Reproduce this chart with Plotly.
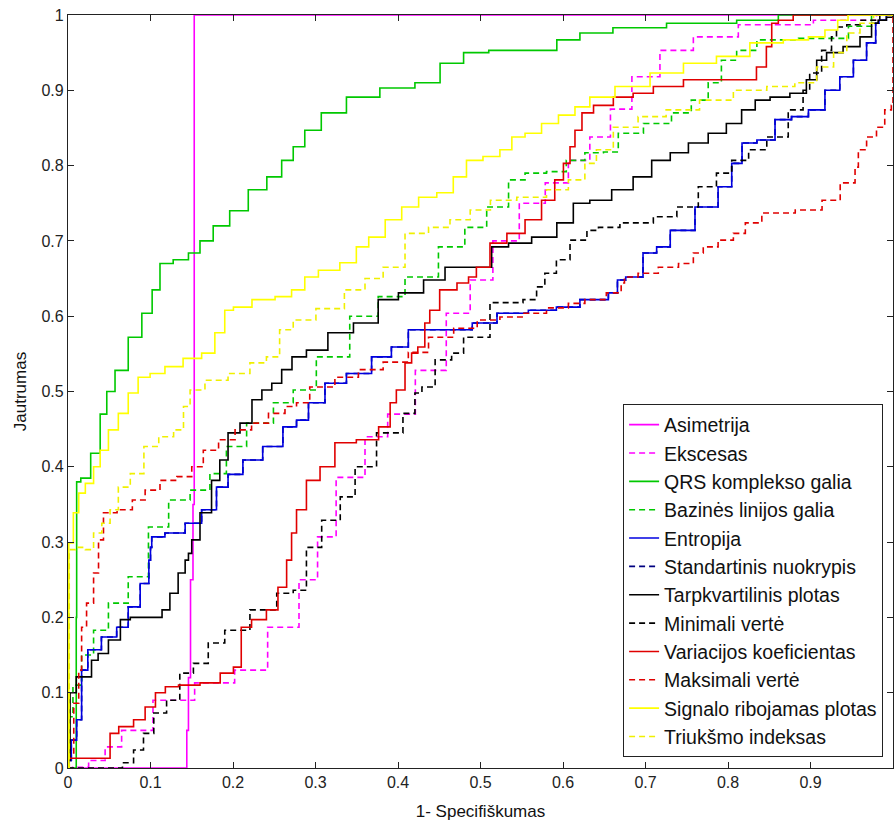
import plotly.graph_objects as go

# ---------------- data ----------------
asim_x = [0, 0.143, 0.145, 0.147, 0.150, 0.153, 0.153, 1.0]
asim_y = [0, 0, 0.05, 0.12, 0.25, 0.35, 1.0, 1.0]

eksc_x = [0, 0.011, 0.039, 0.051, 0.079, 0.127, 0.18, 0.224, 0.26, 0.30, 0.305, 0.345, 0.375, 0.40, 0.442, 0.475, 0.50, 0.53,
          0.564, 0.593, 0.62, 0.645, 0.67, 0.697, 0.738, 0.778, 0.847, 0.96, 1.0]
eksc_y = [0, 0.001, 0.01, 0.028, 0.05, 0.09, 0.113, 0.13, 0.187, 0.25, 0.307, 0.386, 0.44, 0.47, 0.528, 0.604, 0.648, 0.70,
          0.75, 0.777, 0.807, 0.838, 0.875, 0.918, 0.953, 0.971, 0.987, 0.993, 1.0]

qrs_x = [0, 0.01, 0.01, 0.011, 0.02, 0.035, 0.043, 0.051, 0.063, 0.083, 0.096, 0.108, 0.115, 0.14, 0.152, 0.168, 0.184, 0.208,
         0.229, 0.253, 0.265, 0.281, 0.293, 0.321, 0.354, 0.402, 0.439, 0.463, 0.496, 0.524, 0.58, 0.605, 0.636, 0.685,
         0.766, 0.855, 0.867, 1.0]
qrs_y = [0, 0.0, 0.20, 0.38, 0.385, 0.418, 0.47, 0.50, 0.528, 0.572, 0.604, 0.635, 0.67, 0.675, 0.684, 0.70, 0.72, 0.74,
         0.768, 0.785, 0.807, 0.825, 0.847, 0.87, 0.891, 0.903, 0.91, 0.936, 0.95, 0.953, 0.953, 0.967, 0.976, 0.983,
         0.989, 0.993, 1.0, 1.0]

baz_x = [0, 0.002, 0.01, 0.023, 0.039, 0.059, 0.087, 0.108, 0.136, 0.16, 0.184, 0.20, 0.233, 0.265, 0.281, 0.321, 0.362,
         0.39, 0.427, 0.471, 0.491, 0.524, 0.544, 0.564, 0.596, 0.612, 0.641, 0.657, 0.677, 0.718, 0.745, 0.766, 0.786,
         0.798, 0.823, 0.847, 0.924, 0.968, 0.98, 1.0]
baz_y = [0, 0.068, 0.11, 0.15, 0.183, 0.219, 0.254, 0.32, 0.356, 0.369, 0.391, 0.427, 0.458, 0.485, 0.502, 0.546, 0.60,
         0.626, 0.652, 0.692, 0.718, 0.745, 0.781, 0.79, 0.792, 0.807, 0.817, 0.818, 0.843, 0.856, 0.87, 0.887, 0.91,
         0.94, 0.953, 0.967, 0.969, 0.985, 1.0, 1.0]

ent_x = [0, 0.002, 0.006, 0.015, 0.018, 0.03, 0.051, 0.067, 0.079, 0.096, 0.10, 0.10, 0.103, 0.132, 0.152, 0.172, 0.188,
         0.20, 0.224, 0.248, 0.273, 0.281, 0.302, 0.321, 0.354, 0.382, 0.402, 0.423, 0.484, 0.496, 0.544, 0.572, 0.612,
         0.629, 0.645, 0.665, 0.667, 0.685, 0.709, 0.718, 0.742, 0.778, 0.798, 0.811, 0.823, 0.847, 0.867, 0.887, 0.908,
         0.927, 0.944, 0.96, 0.976, 0.982, 0.984, 1.0]
ent_y = [0, 0.01, 0.037, 0.064, 0.13, 0.157, 0.174, 0.187, 0.214, 0.245, 0.276, 0.293, 0.307, 0.312, 0.325, 0.343, 0.373,
         0.39, 0.409, 0.427, 0.453, 0.462, 0.485, 0.511, 0.524, 0.546, 0.559, 0.582, 0.582, 0.591, 0.604, 0.608, 0.612,
         0.622, 0.622, 0.631, 0.648, 0.652, 0.684, 0.692, 0.714, 0.745, 0.772, 0.803, 0.83, 0.834, 0.861, 0.865, 0.874,
         0.90, 0.918, 0.94, 0.963, 0.989, 0.993, 1.0]

std_x = list(ent_x)
std_y = list(ent_y)

tarp_x = [0, 0.0, 0.005, 0.015, 0.027, 0.03, 0.043, 0.055, 0.072, 0.079, 0.108, 0.12, 0.127, 0.14, 0.144, 0.148, 0.152,
          0.168, 0.18, 0.188, 0.20, 0.217, 0.229, 0.241, 0.253, 0.265, 0.278, 0.30, 0.33, 0.362, 0.39, 0.411, 0.451,
          0.463, 0.503, 0.524, 0.544, 0.58, 0.605, 0.62, 0.645, 0.673, 0.697, 0.718, 0.742, 0.762, 0.79, 0.806, 0.827,
          0.839, 0.863, 0.887, 0.903, 0.912, 0.927, 0.952, 0.968, 0.98, 0.984, 1.0, 1.0]
tarp_y = [0, 0.01, 0.10, 0.121, 0.121, 0.143, 0.152, 0.17, 0.197, 0.20, 0.20, 0.21, 0.232, 0.259, 0.276, 0.285, 0.303,
          0.339, 0.382, 0.409, 0.445, 0.458, 0.489, 0.502, 0.511, 0.529, 0.546, 0.555, 0.578, 0.591, 0.622, 0.631, 0.648,
          0.665, 0.665, 0.692, 0.697, 0.705, 0.724, 0.75, 0.754, 0.768, 0.785, 0.807, 0.817, 0.83, 0.843, 0.856, 0.874,
          0.887, 0.891, 0.896, 0.914, 0.94, 0.95, 0.958, 0.971, 0.989, 0.993, 0.997, 1.0]

minv_x = [0, 0.06, 0.072, 0.087, 0.096, 0.112, 0.127, 0.144, 0.16, 0.18, 0.20, 0.241, 0.265, 0.281, 0.297, 0.318, 0.342,
          0.354, 0.394, 0.418, 0.423, 0.435, 0.455, 0.475, 0.484, 0.539, 0.564, 0.572, 0.584, 0.60, 0.617, 0.641, 0.645,
          0.693, 0.726, 0.75, 0.778, 0.794, 0.815, 0.835, 0.859, 0.887, 0.895, 0.903, 0.924, 0.927, 0.936, 0.952, 0.968,
          1.0]
minv_y = [0, 0.0, 0.007, 0.024, 0.046, 0.073, 0.09, 0.126, 0.139, 0.166, 0.183, 0.21, 0.232, 0.236, 0.293, 0.329, 0.36,
          0.40, 0.445, 0.471, 0.498, 0.506, 0.542, 0.551, 0.572, 0.618, 0.622, 0.639, 0.657, 0.675, 0.701, 0.714, 0.718,
          0.724, 0.732, 0.745, 0.772, 0.79, 0.807, 0.821, 0.838, 0.874, 0.90, 0.923, 0.953, 0.971, 0.984, 0.987, 0.993,
          1.0]

var_x = [0, 0.0, 0.051, 0.051, 0.072, 0.087, 0.10, 0.112, 0.124, 0.144, 0.176, 0.193, 0.208, 0.212, 0.233, 0.248, 0.261,
         0.269, 0.273, 0.281, 0.297, 0.314, 0.333, 0.366, 0.387, 0.394, 0.402, 0.415, 0.418, 0.43, 0.435, 0.442, 0.459,
         0.484, 0.487, 0.503, 0.52, 0.544, 0.564, 0.584, 0.596, 0.605, 0.612, 0.617, 0.629, 0.645, 0.677, 0.693, 0.726,
         0.766, 0.827, 0.842, 0.851, 0.855, 0.867, 0.891, 1.0]
var_y = [0, 0.013, 0.013, 0.046, 0.055, 0.064, 0.081, 0.10, 0.108, 0.11, 0.113, 0.126, 0.134, 0.187, 0.197, 0.21, 0.24,
         0.276, 0.312, 0.343, 0.382, 0.40, 0.432, 0.436, 0.453, 0.485, 0.502, 0.538, 0.551, 0.559, 0.591, 0.608, 0.635,
         0.644, 0.652, 0.665, 0.697, 0.71, 0.728, 0.754, 0.781, 0.803, 0.825, 0.847, 0.87, 0.88, 0.891, 0.896, 0.905,
         0.914, 0.914, 0.931, 0.958, 0.989, 0.993, 1.0, 1.0]

maks_x = [0, 0.003, 0.011, 0.015, 0.018, 0.027, 0.035, 0.039, 0.047, 0.072, 0.084, 0.103, 0.12, 0.144, 0.156, 0.172,
          0.193, 0.212, 0.233, 0.253, 0.273, 0.281, 0.305, 0.342, 0.362, 0.402, 0.423, 0.451, 0.484, 0.508, 0.539, 0.564,
          0.596, 0.617, 0.636, 0.669, 0.672, 0.677, 0.705, 0.726, 0.754, 0.762, 0.778, 0.798, 0.815, 0.827, 0.855, 0.908,
          0.92, 0.952, 0.956, 0.96, 0.976, 0.984, 0.996, 1.0, 1.0]
maks_y = [0, 0.02, 0.086, 0.13, 0.187, 0.219, 0.259, 0.303, 0.339, 0.343, 0.356, 0.369, 0.382, 0.387, 0.40, 0.422,
          0.436, 0.449, 0.458, 0.471, 0.48, 0.485, 0.506, 0.519, 0.529, 0.539, 0.552, 0.572, 0.584, 0.595, 0.599, 0.604,
          0.611, 0.617, 0.622, 0.631, 0.644, 0.652, 0.657, 0.665, 0.67, 0.684, 0.692, 0.701, 0.71, 0.724, 0.737, 0.741,
          0.754, 0.777, 0.798, 0.821, 0.838, 0.851, 0.874, 0.88, 1.0]

sig_x = [0, 0.002, 0.011, 0.015, 0.027, 0.035, 0.043, 0.055, 0.067, 0.079, 0.091, 0.108, 0.127, 0.152, 0.172, 0.184,
         0.196, 0.205, 0.241, 0.261, 0.281, 0.293, 0.314, 0.345, 0.354, 0.375, 0.394, 0.415, 0.435, 0.459, 0.475, 0.491,
         0.515, 0.532, 0.544, 0.564, 0.584, 0.605, 0.624, 0.641, 0.685, 0.726, 0.766, 0.806, 0.847, 0.887, 0.908, 0.927,
         0.939, 0.952, 1.0]
sig_y = [0, 0.299, 0.339, 0.365, 0.378, 0.40, 0.422, 0.449, 0.471, 0.498, 0.519, 0.524, 0.533, 0.544, 0.551, 0.578,
         0.608, 0.612, 0.622, 0.626, 0.635, 0.652, 0.661, 0.671, 0.692, 0.705, 0.728, 0.745, 0.758, 0.764, 0.785, 0.807,
         0.812, 0.821, 0.838, 0.843, 0.856, 0.867, 0.878, 0.891, 0.905, 0.923, 0.936, 0.945, 0.963, 0.967, 0.971, 0.98,
         0.993, 1.0, 1.0]

triu_x = [0, 0.003, 0.015, 0.027, 0.035, 0.047, 0.055, 0.067, 0.084, 0.10, 0.12, 0.136, 0.144, 0.152, 0.18, 0.208, 0.233,
          0.248, 0.265, 0.281, 0.32, 0.35, 0.37, 0.394, 0.423, 0.451, 0.475, 0.50, 0.524, 0.564, 0.596, 0.617, 0.636,
          0.645, 0.677, 0.705, 0.745, 0.786, 0.827, 0.867, 0.895, 0.92, 0.936, 0.952, 0.968, 0.985, 1.0]
triu_y = [0, 0.29, 0.293, 0.29, 0.312, 0.325, 0.343, 0.373, 0.391, 0.427, 0.44, 0.449, 0.48, 0.502, 0.515, 0.524, 0.538,
          0.546, 0.582, 0.595, 0.61, 0.635, 0.65, 0.665, 0.71, 0.718, 0.728, 0.741, 0.754, 0.758, 0.768, 0.781, 0.803,
          0.821, 0.851, 0.865, 0.874, 0.887, 0.90, 0.905, 0.91, 0.931, 0.95, 0.976, 0.989, 1.0, 1.0]

series = [
    ("Asimetrija", asim_x, asim_y, "#FF00FF", "solid"),
    ("Ekscesas", eksc_x, eksc_y, "#FF00FF", "6px,4px"),
    ("QRS komplekso galia", qrs_x, qrs_y, "#00C800", "solid"),
    ("Bazinės linijos galia", baz_x, baz_y, "#00C800", "6px,4px"),
    ("Entropija", ent_x, ent_y, "#0000E0", "solid"),
    ("Standartinis nuokrypis", std_x, std_y, "#000080", "6px,4px"),
    ("Tarpkvartilinis plotas", tarp_x, tarp_y, "#000000", "solid"),
    ("Minimali vertė", minv_x, minv_y, "#000000", "6px,4px"),
    ("Variacijos koeficientas", var_x, var_y, "#E00000", "solid"),
    ("Maksimali vertė", maks_x, maks_y, "#E00000", "6px,4px"),
    ("Signalo ribojamas plotas", sig_x, sig_y, "#FFFF00", "solid"),
    ("Triukšmo indeksas", triu_x, triu_y, "#F0F000", "6px,4px"),
]

# draw the hidden (overlapping) dashed navy curve first so the solid blue stays visible
draw_order = [5, 0, 1, 2, 3, 4, 6, 7, 8, 9, 10, 11]

fig = go.Figure()
for i in draw_order:
    name, xs, ys, col, dash = series[i]
    fig.add_trace(go.Scatter(x=xs, y=ys, mode="lines", name=name, legendrank=100 + i,
                             line=dict(color=col, width=1.6, dash=dash, shape="hvh")))

font_family = "Liberation Sans, Arial, sans-serif"
axis_common = dict(range=[0, 1], dtick=0.1, showgrid=False, zeroline=False,
                   showline=True, linecolor="#222", linewidth=1.2, mirror="ticks",
                   ticks="inside", ticklen=6, tickcolor="#222",
                   tickfont=dict(family=font_family, size=16, color="#222"))

fig.update_layout(
    width=896, height=827,
    margin=dict(l=68, r=3, t=15, b=59),
    paper_bgcolor="white", plot_bgcolor="white",
    font=dict(family=font_family, color="#111"),
    xaxis=dict(axis_common, title=dict(text="1- Specifiškumas", font=dict(size=17), standoff=14)),
    yaxis=dict(axis_common, title=dict(text="Jautrumas", font=dict(size=17), standoff=10)),
    legend=dict(x=0.988, y=0.014, xanchor="right", yanchor="bottom",
                bordercolor="#222", borderwidth=1, bgcolor="white",
                font=dict(family=font_family, size=19.5, color="#111"),
                tracegroupgap=0),
    showlegend=True,
)

fig.write_html("out.html")
